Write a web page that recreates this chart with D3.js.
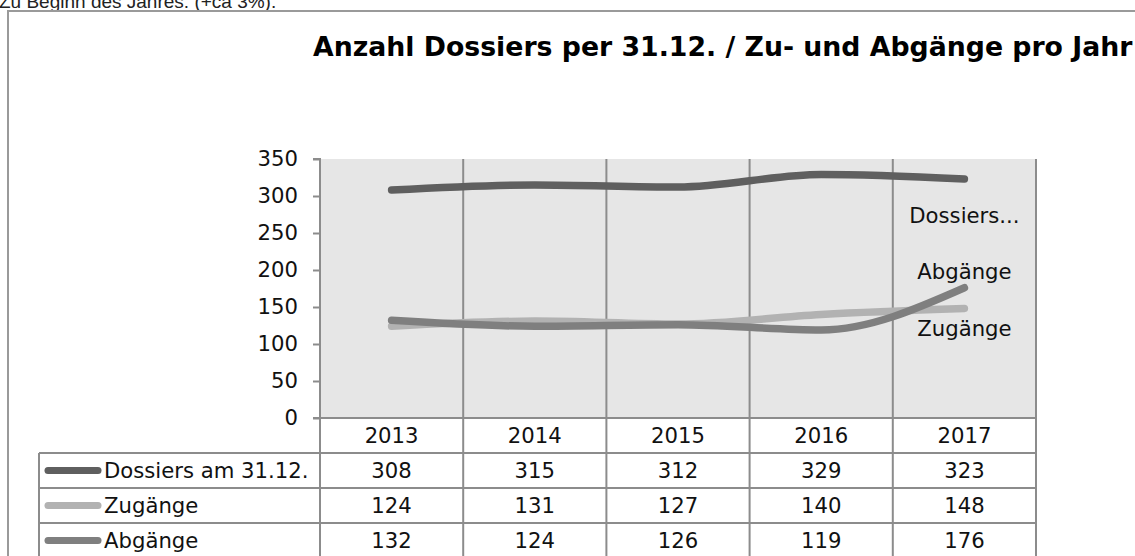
<!DOCTYPE html>
<html><head><meta charset="utf-8">
<script src="https://cdn.jsdelivr.net/npm/d3@7/dist/d3.min.js"></script>
<style>html,body{margin:0;padding:0;background:#fff;overflow:hidden}</style>
</head><body>
<svg id="c" width="1135" height="556"></svg>
<script>
const years = ["2013","2014","2015","2016","2017"];
const seriesNames = ["Dossiers am 31.12.","Zugänge","Abgänge"];
const labelNames = ["Dossiers...","Zugänge","Abgänge"];
const dossiers = [308,315,312,329,323];
const zugaenge = [124,131,127,140,148];
const abgaenge = [132,124,126,119,176];
const yTicks = [0,50,100,150,200,250,300,350];
const title = "Anzahl Dossiers per 31.12. / Zu- und Abgänge pro Jahr";
const topText = "Zu Beginn des Jahres. (+ca 3%).";

const series = [
  {name: seriesNames[0], label: labelNames[0], values: dossiers, color: "#5f5f5f", dy: 44},
  {name: seriesNames[1], label: labelNames[1], values: zugaenge, color: "#b2b2b2", dy: 28},
  {name: seriesNames[2], label: labelNames[2], values: abgaenge, color: "#7f7f7f", dy: -9}
];

const svg = d3.select("#c");
const FONT = "DejaVu Sans, Verdana, sans-serif";
const fs = 21.2;
const L = 320, R = 1036, T = 159, B = 418;
const rowH = 35;
const tabL = 39;
const gridCol = "#8c8c8c";

// top clipped text
svg.append("text").attr("x", -1).attr("y", 8).attr("font-family", "Liberation Sans, Arial, sans-serif").attr("font-size", 19)
  .attr("fill", "#222").text(topText);

// outer border
svg.append("rect").attr("x", 8).attr("y", 11).attr("width", 1200).attr("height", 600)
  .attr("fill", "none").attr("stroke", "#9a9a9a").attr("stroke-width", 2);

// title
const t = svg.append("text").attr("x", 313).attr("y", 56).attr("font-family", FONT)
  .attr("font-weight", "bold").attr("font-size", 20).attr("fill", "#000").text(title);
const tw = t.node().getComputedTextLength();
t.attr("font-size", 20 * 820 / tw);

const x = d3.scaleBand().domain(years).range([L, R]).padding(0);
const y = d3.scaleLinear().domain([0, 350]).range([B, T]);

// plot bg
svg.append("rect").attr("x", L).attr("y", T).attr("width", R - L).attr("height", B - T).attr("fill", "#e6e6e6");

// vertical grid lines (category boundaries) extending through table
const bounds = years.map(d => x(d)).concat([R]);
svg.append("g").selectAll("line").data(bounds).join("line")
  .attr("x1", d => d).attr("x2", d => d).attr("y1", T).attr("y2", B + rowH * 4)
  .attr("stroke", gridCol).attr("stroke-width", 2);

// y axis
const yAxis = d3.axisLeft(y).tickValues(yTicks).tickSize(7).tickPadding(15);
const ga = svg.append("g").attr("transform", `translate(${L},0)`).call(yAxis);
ga.select(".domain").attr("stroke", gridCol).attr("stroke-width", 2).attr("d", `M-7,${T}H0V${B}`);
ga.selectAll(".tick line").attr("stroke", gridCol).attr("stroke-width", 2);
ga.selectAll(".tick text").attr("font-family", FONT).attr("font-size", fs).attr("fill", "#111");

// table horizontal lines
const hl = [B, B + rowH, B + rowH * 2, B + rowH * 3, B + rowH * 4];
svg.append("g").selectAll("line").data(hl).join("line")
  .attr("x1", (d, i) => i === 0 ? L - 7 : tabL).attr("x2", R)
  .attr("y1", d => d).attr("y2", d => d).attr("stroke", gridCol).attr("stroke-width", 2);
svg.append("line").attr("x1", tabL).attr("x2", tabL).attr("y1", B + rowH).attr("y2", B + rowH * 4)
  .attr("stroke", gridCol).attr("stroke-width", 2);

// year labels
svg.append("g").selectAll("text").data(years).join("text")
  .attr("x", d => x(d) + x.bandwidth() / 2).attr("y", B + 25)
  .attr("text-anchor", "middle").attr("font-family", FONT).attr("font-size", fs).attr("fill", "#111")
  .text(d => d);

// table rows
series.forEach((s, i) => {
  const ry = B + rowH * (i + 1);
  const g = svg.append("g");
  g.append("line").attr("x1", 48).attr("x2", 98).attr("y1", ry + rowH / 2).attr("y2", ry + rowH / 2)
    .attr("stroke", s.color).attr("stroke-width", 7).attr("stroke-linecap", "round");
  g.append("text").attr("x", 104).attr("y", ry + 25).attr("font-family", FONT).attr("font-size", fs)
    .attr("fill", "#111").text(s.name);
  g.selectAll("text.v").data(s.values).join("text").attr("class", "v")
    .attr("x", (d, j) => x(years[j]) + x.bandwidth() / 2).attr("y", ry + 25)
    .attr("text-anchor", "middle").attr("font-family", FONT).attr("font-size", fs).attr("fill", "#111")
    .text(d => d);
});

// lines
const line = d3.line().x((d, j) => x(years[j]) + x.bandwidth() / 2).y(d => y(d)).curve(d3.curveMonotoneX);
series.forEach(s => {
  svg.append("path").attr("d", line(s.values)).attr("fill", "none").attr("stroke", s.color)
    .attr("stroke-width", 7.5).attr("stroke-linecap", "round").attr("stroke-linejoin", "round");
});

// end labels
series.forEach(s => {
  const last = s.values.length - 1;
  svg.append("text").attr("x", x(years[last]) + x.bandwidth() / 2).attr("y", y(s.values[last]) + s.dy)
    .attr("text-anchor", "middle").attr("font-family", FONT).attr("font-size", fs).attr("fill", "#111")
    .text(s.label);
});
</script>
</body></html>
